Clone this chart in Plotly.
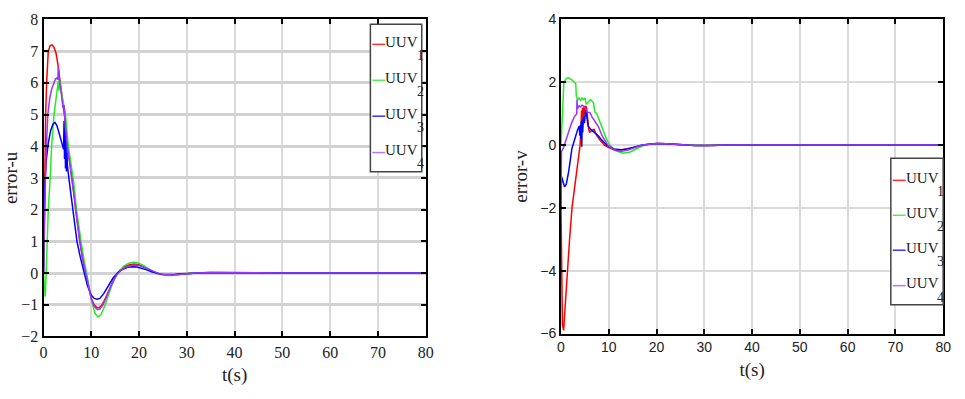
import plotly.graph_objects as go

W, H = 965, 399

# ---------------- data: left panel (error-u) ----------------
u1_t = [0, 0.1, 0.25, 0.45, 0.65, 1.0, 1.4, 1.8, 2.2, 2.6, 3.0, 3.4, 3.8, 4.2, 4.45, 4.5, 4.55, 4.8, 5.0, 5.5, 6.0, 6.4, 6.75, 7.2, 7.6, 8.2, 8.8, 9.4, 10.0, 10.6, 11.2, 11.6, 12.2, 13.0, 14.0, 15.0, 16.0, 17.0, 18.0, 19.0, 20.0, 21.0, 22.0, 23.0, 24.0, 25.0, 26.0, 27.0, 28.0, 30.0, 32.0, 35.0, 38.0, 42.0, 50.0, 80.0]
u1_v = [0, 1.5, 3.5, 5.0, 6.0, 7.0, 7.18, 7.2, 7.12, 6.95, 6.6, 6.1, 5.6, 5.2, 4.9, 4.25, 4.85, 4.25, 3.95, 3.5, 3.0, 2.45, 2.0, 1.45, 1.0, 0.45, 0.0, -0.45, -0.8, -1.0, -1.1, -1.1, -1.02, -0.78, -0.42, -0.12, 0.08, 0.2, 0.26, 0.28, 0.26, 0.2, 0.12, 0.04, -0.02, -0.05, -0.06, -0.06, -0.05, -0.02, 0.0, 0.015, 0.01, 0.0, 0.0, 0.0]

u2_t = [0, 0.15, 0.35, 0.55, 0.8, 1.0, 1.4, 1.7, 2.2, 2.7, 3.1, 3.2, 3.3, 3.4, 3.5, 3.6, 3.8, 4.2, 4.6, 5.2, 5.8, 6.3, 6.9, 7.4, 7.9, 8.5, 9.0, 9.6, 10.2, 10.8, 11.4, 12.0, 12.8, 13.8, 14.8, 15.8, 16.8, 17.8, 18.8, 19.8, 20.8, 21.8, 22.8, 23.8, 24.8, 25.8, 26.8, 27.8, 29.5, 31.5, 34.5, 37.0, 42.0, 50.0, 80.0]
u2_v = [0, -0.5, -0.75, 0.0, 1.2, 2.0, 3.0, 4.0, 5.0, 5.7, 6.05, 5.75, 6.1, 5.8, 6.05, 5.85, 5.7, 5.4, 5.0, 4.0, 3.4, 2.9, 2.0, 1.4, 0.95, 0.4, 0.0, -0.5, -0.95, -1.28, -1.39, -1.32, -1.05, -0.6, -0.2, 0.05, 0.22, 0.31, 0.34, 0.32, 0.25, 0.15, 0.05, -0.02, -0.06, -0.08, -0.08, -0.06, -0.03, 0.0, 0.015, 0.01, 0.0, 0.0, 0.0]

u3_t = [0, 0.1, 0.3, 0.6, 1.0, 1.5, 2.0, 2.4, 2.8, 3.2, 3.6, 4.0, 4.2, 4.3, 4.4, 4.5, 4.6, 4.7, 4.8, 4.9, 5.0, 5.3, 5.8, 6.2, 6.6, 7.0, 7.7, 8.5, 9.2, 10.0, 10.6, 11.2, 11.8, 12.6, 13.6, 14.6, 15.6, 16.6, 17.6, 18.6, 19.6, 20.6, 21.6, 22.6, 23.6, 24.6, 25.6, 26.6, 27.6, 29.0, 31.0, 34.0, 37.0, 42.0, 50.0, 80.0]
u3_v = [0, 1.5, 2.8, 3.6, 4.1, 4.5, 4.7, 4.75, 4.65, 4.45, 4.2, 4.0, 3.9, 4.8, 3.6, 4.5, 3.3, 4.2, 3.2, 3.8, 3.4, 3.0, 2.4, 2.0, 1.5, 1.0, 0.5, 0.0, -0.4, -0.7, -0.8, -0.83, -0.8, -0.65, -0.4, -0.15, 0.02, 0.12, 0.18, 0.2, 0.19, 0.15, 0.1, 0.04, -0.01, -0.04, -0.05, -0.05, -0.04, -0.02, 0.0, 0.01, 0.01, 0.0, 0.0, 0.0]

u4_t = [0, 0.1, 0.25, 0.5, 0.9, 1.3, 1.7, 2.1, 2.5, 2.8, 3.0, 3.1, 3.2, 3.4, 3.7, 3.9, 4.1, 4.3, 4.4, 4.6, 5.0, 5.5, 6.0, 6.4, 6.75, 7.2, 7.6, 8.2, 8.8, 9.4, 10.0, 10.6, 11.3, 11.8, 12.4, 13.2, 14.2, 15.2, 16.2, 17.2, 18.2, 19.2, 20.2, 21.2, 22.2, 23.2, 24.2, 25.2, 26.2, 27.2, 28.2, 30.0, 32.0, 35.0, 38.0, 42.0, 50.0, 80.0]
u4_v = [0, 1.0, 2.3, 3.6, 5.0, 5.5, 5.8, 6.0, 6.12, 6.15, 6.1, 6.5, 6.2, 6.0, 5.7, 5.5, 5.2, 5.3, 4.9, 4.6, 4.0, 3.5, 3.0, 2.45, 2.0, 1.45, 1.0, 0.45, 0.0, -0.45, -0.82, -1.05, -1.16, -1.14, -1.02, -0.75, -0.38, -0.08, 0.08, 0.18, 0.23, 0.25, 0.23, 0.17, 0.1, 0.03, -0.02, -0.05, -0.06, -0.06, -0.05, -0.02, 0.0, 0.015, 0.01, 0.0, 0.0, 0.0]

# ---------------- data: right panel (error-v) ----------------
v1_t = [0, 0.1, 0.3, 0.55, 0.9, 1.3, 1.8, 2.3, 2.9, 3.5, 4.0, 4.2, 4.3, 4.4, 4.5, 4.6, 4.7, 4.8, 4.9, 5.0, 5.2, 5.4, 5.6, 5.8, 6.0, 6.3, 6.9, 7.5, 8.2, 9.1, 10.0, 11.2, 12.5, 14.0, 15.0, 16.0, 17.0, 18.0, 19.0, 20.0, 21.0, 22.0, 24.0, 26.0, 28.0, 30.0, 33.0, 36.0, 80.0]
v1_v = [-2.0, -4.5, -5.7, -5.9, -5.0, -4.0, -3.0, -2.0, -1.3, -0.6, 0.0, 0.6, 1.1, 0.7, 1.2, 0.75, 1.2, 0.9, 1.25, 1.0, 1.25, 1.15, 0.8, 0.5, 0.4, 0.45, 0.5, 0.3, 0.15, 0.0, -0.08, -0.15, -0.16, -0.12, -0.08, -0.04, 0.0, 0.02, 0.04, 0.05, 0.05, 0.04, 0.02, 0.0, -0.01, -0.015, -0.01, 0.0, 0.0]

v2_t = [0, 0.2, 0.6, 1.1, 1.5, 2.0, 2.5, 3.1, 3.2, 3.5, 3.8, 4.1, 4.4, 4.7, 5.0, 5.3, 5.8, 6.2, 6.8, 7.1, 7.5, 8.0, 8.5, 9.5, 10.2, 11.5, 13.0, 14.5, 16.0, 17.5, 19.0, 21.0, 23.0, 25.0, 27.0, 29.0, 32.0, 36.0, 80.0]
v2_v = [0.0, 0.8, 2.0, 2.12, 2.15, 2.1, 2.05, 1.95, 1.55, 1.45, 1.5, 1.42, 1.5, 1.45, 1.5, 1.3, 1.38, 1.45, 1.35, 1.05, 1.0, 0.8, 0.6, 0.2, 0.0, -0.18, -0.26, -0.22, -0.1, 0.0, 0.04, 0.05, 0.04, 0.02, 0.0, -0.01, -0.01, 0.0, 0.0]

v3_t = [0, 0.1, 0.4, 0.75, 1.1, 1.6, 2.3, 3.0, 3.5, 3.8, 3.95, 4.05, 4.15, 4.25, 4.35, 4.45, 4.55, 4.7, 4.9, 5.1, 5.2, 5.5, 5.7, 6.2, 7.0, 7.8, 8.6, 9.6, 11.0, 12.5, 14.0, 15.5, 17.0, 18.5, 20.0, 22.0, 24.0, 26.0, 28.0, 31.0, 35.0, 80.0]
v3_v = [-2.0, -1.0, -1.15, -1.33, -1.25, -0.85, -0.1, 0.3, 0.5, 0.6, 0.3, 0.65, 0.2, 0.75, -0.05, 0.8, 0.4, 0.9, 0.7, 1.0, 1.1, 0.8, 0.6, 0.5, 0.4, 0.3, 0.15, 0.0, -0.12, -0.15, -0.12, -0.05, 0.0, 0.03, 0.05, 0.04, 0.02, 0.0, -0.01, -0.01, 0.0, 0.0]

v4_t = [0, 0.1, 0.5, 1.0, 1.6, 2.2, 2.8, 3.3, 3.35, 3.45, 3.6, 3.8, 4.1, 4.4, 4.7, 5.0, 5.5, 6.05, 6.5, 7.2, 7.8, 8.6, 9.8, 11.0, 12.5, 14.0, 15.5, 17.0, 18.5, 20.0, 22.0, 24.0, 26.0, 28.0, 31.0, 35.0, 80.0]
v4_v = [-2.0, -0.2, -0.1, 0.15, 0.45, 0.7, 0.9, 1.0, 1.45, 1.15, 1.2, 1.25, 1.22, 1.27, 1.25, 1.2, 1.05, 1.04, 0.9, 0.75, 0.6, 0.3, 0.0, -0.15, -0.2, -0.16, -0.08, 0.0, 0.03, 0.05, 0.04, 0.02, 0.0, -0.01, -0.01, 0.0, 0.0]

names = ["UUV", "UUV", "UUV", "UUV"]
subs = ["1", "2", "3", "4"]
colors = ["#ff0000", "#22ee22", "#0000ff", "#9933ff"]
legend_colors = ["#ff3030", "#55ee55", "#3333ff", "#bb77ee"]

left_series = [(u1_t, u1_v), (u2_t, u2_v), (u3_t, u3_v), (u4_t, u4_v)]
right_series = [(v1_t, v1_v), (v2_t, v2_v), (v3_t, v3_v), (v4_t, v4_v)]

x_ticks = [0, 10, 20, 30, 40, 50, 60, 70, 80]
yl_ticks = [-2, -1, 0, 1, 2, 3, 4, 5, 6, 7, 8]
yr_ticks = [-6, -4, -2, 0, 2, 4]

fig = go.Figure()
for (t, v), c, n, s in zip(left_series, colors, names, subs):
    fig.add_trace(go.Scatter(x=t, y=v, mode="lines", name=f"{n}<sub>{s}</sub>",
                             line=dict(color=c, width=1.5),
                             xaxis="x", yaxis="y", showlegend=False))
for (t, v), c, n, s in zip(right_series, colors, names, subs):
    fig.add_trace(go.Scatter(x=t, y=v, mode="lines", name=f"{n}<sub>{s}</sub>",
                             line=dict(color=c, width=1.5),
                             xaxis="x2", yaxis="y2", showlegend=False))


def px(x):
    return x / W


def py(y):
    return 1 - y / H


serif = "Liberation Serif"
sans = "Liberation Sans"

common_axis = dict(showline=True, linecolor="black", linewidth=2, mirror="ticks",
                   ticks="inside", ticklen=5, tickcolor="black", tickwidth=1.5,
                   zeroline=False, showgrid=True)

fig.update_layout(
    width=W, height=H, margin=dict(l=0, r=0, t=0, b=0),
    paper_bgcolor="white", plot_bgcolor="white", showlegend=False,
    xaxis=dict(domain=[px(40), px(427)], range=[0, 80], tickvals=x_ticks,
               gridcolor="#dadada", gridwidth=2,
               tickfont=dict(family=serif, size=16, color="#222"),
               title=dict(text="t(s)", font=dict(family=serif, size=19, color="#222"), standoff=8),
               anchor="y", **common_axis),
    yaxis=dict(domain=[py(343), py(12)], range=[-2, 8], tickvals=yl_ticks,
               gridcolor="#d2d2d2", gridwidth=3,
               tickfont=dict(family=serif, size=16, color="#222"),
               title=dict(text="error-u", font=dict(family=serif, size=19, color="#222"), standoff=6),
               anchor="x", **common_axis),
    xaxis2=dict(domain=[px(564), px(951)], range=[0, 80], tickvals=x_ticks,
                gridcolor="#dadada", gridwidth=2,
                tickfont=dict(family=sans, size=14, color="#222"),
                title=dict(text="t(s)", font=dict(family=serif, size=19, color="#222"), standoff=8),
                anchor="y2", **common_axis),
    yaxis2=dict(domain=[py(340), py(12)], range=[-6, 4], tickvals=yr_ticks,
                gridcolor="#dadada", gridwidth=2,
                tickfont=dict(family=sans, size=14, color="#222"),
                title=dict(text="error-v", font=dict(family=serif, size=19, color="#222"), standoff=8),
                anchor="x2", **common_axis),
)

# ---- legends drawn as boxes with line samples and text ----
def add_legend(x0, x1, y0, y1, rows):
    fig.add_shape(type="rect", xref="paper", yref="paper",
                  x0=px(x0), x1=px(x1), y0=py(y1), y1=py(y0),
                  line=dict(color="#444", width=1.5), fillcolor="white", layer="above")
    for yy, c, n, s in zip(rows, legend_colors, names, subs):
        fig.add_shape(type="line", xref="paper", yref="paper",
                      x0=px(x0 + 2), x1=px(x0 + 15), y0=py(yy), y1=py(yy),
                      line=dict(color=c, width=1.5), layer="above")
        fig.add_annotation(xref="paper", yref="paper", x=px(x0 + 14), y=py(yy - 12),
                           xanchor="left", yanchor="top", showarrow=False, borderpad=0,
                           text=n, font=dict(family=serif, size=15, color="#222222"))
        fig.add_annotation(xref="paper", yref="paper", x=px(x0 + 46), y=py(yy + 3),
                           xanchor="left", yanchor="top", showarrow=False, borderpad=0,
                           text=s, font=dict(family=serif, size=14, color="#222222"))


add_legend(371, 423, 17, 171, [38, 75.5, 113, 151])
add_legend(898, 951, 157, 310, [180, 216.5, 253, 290])

fig.write_html("out.html")
